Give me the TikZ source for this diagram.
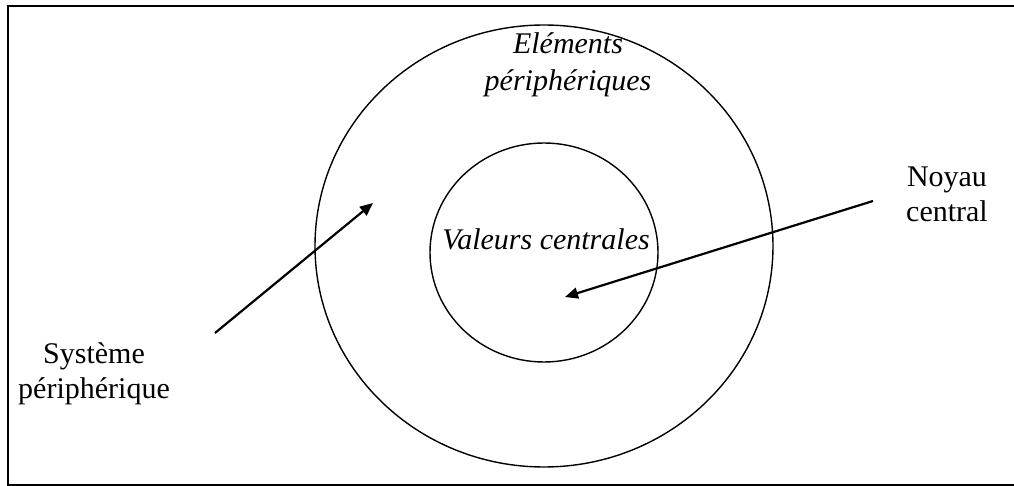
\documentclass[tikz,border=0pt]{standalone}
\usepackage{fontspec}
\setmainfont{Liberation Serif}
\usetikzlibrary{arrows.meta}
\usetikzlibrary{positioning}

\tikzset{
    ring/.style={line width=0.7pt, draw=black},
    pointer/.style={line width=1.1pt, -{Triangle[length=6.5pt, width=5.5pt]}},
    label/.style={align=center, inner sep=0pt}
}

\begin{document}
\begin{tikzpicture}[x=0.5pt, y=-0.5pt, font=\fontsize{15}{17.5}\selectfont]

    \useasboundingbox (0,0) rectangle (1014,486);
    \draw[line width=1.2pt] (8,6) rectangle (1024,485.5);

        % the two rings
        \draw[ring] (544,246) ellipse (229 and 221);
        \draw[ring] (544,252.5) ellipse (114 and 109.5);

        \node[label, font=\fontsize{15}{18.5}\selectfont\itshape] (periph) at (568,65) {Eléments\\périphériques};
        \node[label, font=\fontsize{15}{17.5}\selectfont\itshape] (valeurs) at (546,239) {Valeurs centrales};
        \node[label] (systeme) at (94,374) {Système\\périphérique};
        \node[label] (noyau) at (947,194) {Noyau\\central};

        \coordinate (sys-from) at (215,333);
        \coordinate (sys-to) at (373,203);
        \coordinate (noy-from) at (873,201);
        \coordinate (noy-to) at (565,297);

        \draw[pointer] (sys-from) -- (sys-to);
        \draw[pointer] (noy-from) -- (noy-to);
    \end{tikzpicture}
\end{document}
